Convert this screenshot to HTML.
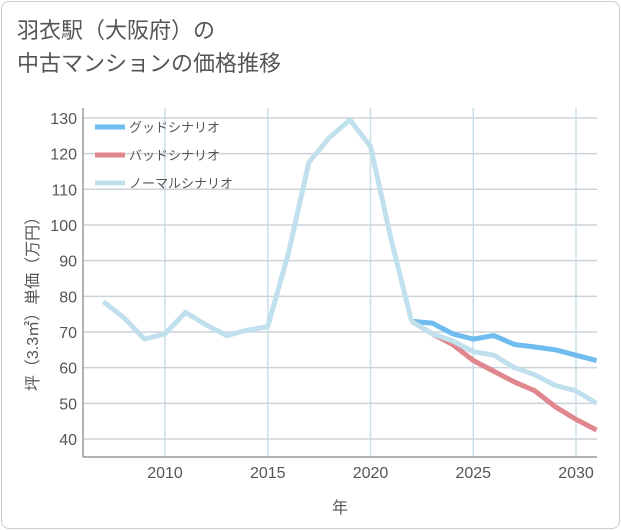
<!DOCTYPE html>
<html><head><meta charset="utf-8"><style>
body{margin:0;background:#fff;font-family:"Liberation Sans","Noto Sans CJK JP",sans-serif;}
#card{position:absolute;left:1px;top:1px;width:617px;height:526px;border:1px solid #ccc;border-radius:8px;background:#fff;}
#title{position:absolute;left:17px;top:14px;font-size:22px;line-height:33px;color:#555;}
svg{position:absolute;left:0;top:0;}
</style></head><body>
<div id="card"></div>
<div id="title">羽衣駅（大阪府）の<br>中古マンションの価格推移</div>
<svg id="chart" width="621" height="530"></svg>
<script>
const years=[2007,2008,2009,2010,2011,2012,2013,2014,2015,2016,2017,2018,2019,2020,2021,2022];
const hist=[78.5,74,68,69.5,75.5,72,69,70.5,71.5,92,117.5,124.5,129.5,122,96,73];
const fYears=[2022,2023,2024,2025,2026,2027,2028,2029,2030,2031];
const good=[73,72.5,69.5,68,69,66.5,65.8,65,63.5,62];
const bad=[73,69.5,66.5,62,59,56,53.5,49,45.5,42.5];
const normal=[73,69.5,67.5,64.5,63.5,60,58,55,53.5,50];
const xTicks=[2010,2015,2020,2025,2030];
const yTicks=[40,50,60,70,80,90,100,110,120,130];
const L=83,R=597,T=108,B=457;
const X=v=>165+(v-2010)*20.55;
const Y=v=>439-(v-40)*3.567;
const s=document.getElementById('chart');const ns='http://www.w3.org/2000/svg';
function el(t,a,p){const e=document.createElementNS(ns,t);for(const k in a)e.setAttribute(k,a[k]);(p||s).appendChild(e);return e;}
xTicks.forEach(y=>{const g=el('line',{x1:X(y),x2:X(y),y1:T,y2:B,stroke:'#c9dfea','stroke-width':1.5});
});
yTicks.forEach(v=>{const g=el('line',{x1:L,x2:R,y1:Y(v),y2:Y(v),stroke:'#ccd3da','stroke-width':1.5});
});
const axl=el('line',{x1:L,x2:L,y1:T,y2:B,stroke:'#999','stroke-width':1.5});

const axb=el('line',{x1:L,x2:R,y1:B,y2:B,stroke:'#999','stroke-width':1.5});

xTicks.forEach(v=>{const t=el('text',{x:X(v),y:478,'text-anchor':'middle','font-size':16,fill:'#555'});t.textContent=v;
});
yTicks.forEach(v=>{const t=el('text',{x:77,y:Y(v)+6,'text-anchor':'end','font-size':16,fill:'#555'});t.textContent=v;
});
const xt=el('text',{x:340,y:513,'text-anchor':'middle','font-size':16,fill:'#555'});xt.textContent='年';

const yt=el('text',{x:0,y:0,'text-anchor':'middle','font-size':16,fill:'#555',transform:'translate(38,300) rotate(-90)'});yt.textContent='坪（3.3㎡）単価（万円）';

function line(xs,vs,c,name){const p=el('polyline',{points:xs.map((x,i)=>X(x)+','+Y(vs[i])).join(' '),fill:'none',stroke:c,'stroke-width':5,'stroke-linejoin':'round'});
}
line(fYears,good,'#6fbdf0','good-scenario-line');
line(fYears,bad,'#e0868e','bad-scenario-line');
line(fYears,normal,'#bfe0ec','normal-scenario-line');
line(years,hist,'#bfe0ec','historical-line');
const leg=[['グッドシナリオ','#6fbdf0'],['バッドシナリオ','#e0868e'],['ノーマルシナリオ','#bfe0ec']];
leg.forEach((l,i)=>{const y=127+i*28;const g=el('g',{});
el('line',{x1:95,x2:125,y1:y,y2:y,stroke:l[1],'stroke-width':5},g);
const t=el('text',{x:129,y:y+5,'font-size':13,fill:'#555'},g);t.textContent=l[0];});
</script>
</body></html>
